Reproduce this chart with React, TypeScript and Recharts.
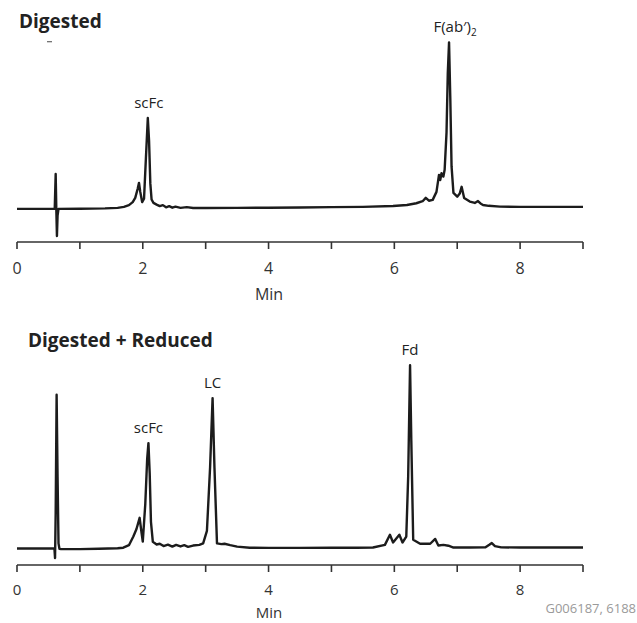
import React from 'react';
import { LineChart, Line, XAxis, YAxis, ReferenceDot } from 'recharts';

// ---------- data ----------
const timeTicks = [0, 1, 2, 3, 4, 5, 6, 7, 8, 9];

// Panel 1: Digested
const digestedTime = [
  0, 0.4, 0.6, 0.615, 0.625, 0.635, 0.645, 0.66, 1.0, 1.4, 1.6, 1.7, 1.78, 1.84, 1.88, 1.92,
  1.94, 1.96, 1.99, 2.02, 2.05, 2.08, 2.1, 2.12, 2.14, 2.17, 2.22, 2.27, 2.32, 2.37, 2.42, 2.47,
  2.52, 2.6, 2.7, 2.8, 3.0, 3.5, 4.0, 4.5, 5.0, 5.5, 5.98, 6.2, 6.35, 6.45, 6.5, 6.55, 6.61,
  6.67, 6.71, 6.73, 6.75, 6.78, 6.8, 6.83, 6.85, 6.87, 6.89, 6.91, 6.94, 7.0, 7.04, 7.07, 7.11,
  7.2, 7.28, 7.33, 7.37, 7.41, 7.5, 7.68, 8.0, 8.5, 9.0,
];
const digestedSignal = [
  0, 0, 0, 20.5, 0, -16, -4, 0, 0.1, 0.3, 0.6, 1.2, 2.2, 4, 6.5, 12,
  15.3, 10, 4, 6, 30, 53.5, 40, 15, 5.5, 3.5, 2.5, 1.6, 2.2, 0.9, 1.6, 0.7,
  1.3, 0.6, 1.0, 0.5, 0.5, 0.6, 0.7, 0.8, 1.0, 1.2, 1.7, 2.3, 3.3, 4.5, 6.5, 4.8, 5.3,
  10, 20, 17, 21, 19, 23, 45, 80, 98, 65, 25, 9.4, 7.2, 9, 13, 6.4,
  4.3, 3.5, 4.6, 3.2, 2.3, 1.8, 1.3, 1.2, 1.2, 1.2,
];
const digestedPeakNames = ['scFc', 'F(ab′)'];
const digestedPeakTimes = [2.08, 6.87];
const digestedPeakHeights = [53.5, 98];

// Panel 2: Digested + Reduced
const reducedTime = [
  0, 0.3, 0.58, 0.595, 0.605, 0.615, 0.63, 0.645, 0.66, 0.675, 0.7, 0.8, 1.0, 1.3, 1.6, 1.69,
  1.78, 1.85, 1.9, 1.95, 1.98, 2.0, 2.04, 2.07, 2.09, 2.11, 2.13, 2.16, 2.22, 2.27, 2.33, 2.4,
  2.47, 2.53, 2.6, 2.66, 2.72, 2.8, 2.9, 2.96, 3.02, 3.07, 3.11, 3.14, 3.18, 3.25, 3.3, 3.39,
  3.5, 3.7, 4.0, 4.5, 5.0, 5.4, 5.66, 5.85, 5.93, 5.98, 6.08, 6.13, 6.19, 6.22, 6.25, 6.27,
  6.3, 6.41, 6.57, 6.65, 6.7, 6.78, 6.86, 6.94, 7.2, 7.45, 7.51, 7.55, 7.6, 7.7, 8.0, 8.5, 9.0,
];
const reducedSignal = [
  0.2, 0.2, 0.2, 0.2, -5.2, 20, 85.6, 40, 3, 0, -0.2, -0.2, -0.2, 0, 0.3, 0.6,
  2, 6.8, 11, 17.2, 9, 4, 25, 50, 58.7, 42, 15, 3.9, 2.4, 2.8, 1.5, 2.3,
  1.2, 2.2, 1.3, 2.0, 1.1, 1.8, 2.2, 3.0, 10, 45, 83.7, 45, 3, 2.6, 2.8, 2,
  1.2, 0.6, 0.5, 0.5, 0.6, 0.6, 0.7, 2.2, 7.8, 3.5, 7.8, 3.5, 6.8, 40, 102, 60,
  5, 2.8, 2.8, 5.5, 1.8, 2.2, 1.7, 0.7, 0.7, 0.8, 2.2, 3.2, 1.5, 0.8, 0.7, 0.7, 0.7,
];
const reducedPeakNames = ['scFc', 'LC', 'Fd'];
const reducedPeakTimes = [2.09, 3.11, 6.25];
const reducedPeakHeights = [58.7, 83.7, 102];

// ---------- helpers ----------
const FONT = '"Open Sans", "Noto Sans", sans-serif';
const INK = '#1c1c1c';
const AXIS = '#333333';

const zip = (t: number[], s: number[]) => t.map((v, i) => ({ t: v, s: s[i] }));
const digestedData = zip(digestedTime, digestedSignal);
const reducedData = zip(reducedTime, reducedSignal);

const tickFmt = (v: number) => (v % 2 === 0 ? String(v) : '');

const makeLabel = (name: string, dx: number, sub?: string) => (p: any) => (
  <text
    x={p.cx + dx}
    y={p.cy - 10}
    textAnchor="middle"
    fontFamily={FONT}
    fontSize={15}
    fill="#222"
  >
    {name}
    {sub ? (
      <tspan fontSize={10} dy={4}>
        {sub}
      </tspan>
    ) : null}
  </text>
);

const axisProps = {
  type: 'number' as const,
  dataKey: 't',
  domain: [0, 9],
  ticks: timeTicks,
  tickFormatter: tickFmt,
  interval: 0 as const,
  allowDataOverflow: true,
  axisLine: { stroke: AXIS, strokeWidth: 1.6 },
  tickLine: { stroke: AXIS, strokeWidth: 1.6 },
  tickSize: 7,
  tickMargin: 14,
  tick: { fontSize: 16, fill: '#333', fontFamily: FONT },
  height: 60,
};

export default function App() {
  return (
    <div style={{ position: 'absolute', left: 0, top: 0, width: 637, height: 623, background: '#fff' }}>
      <div style={{ position: 'absolute', left: 0, top: 0 }}>
        <LineChart width={637} height={302} data={digestedData} margin={{ top: 22, right: 54, bottom: 0, left: 17 }}>
          <XAxis {...axisProps} />
          <YAxis hide type="number" domain={[-19.5, 110]} allowDataOverflow />
          <Line
            type="linear"
            dataKey="s"
            stroke={INK}
            strokeWidth={2.4}
            dot={false}
            isAnimationActive={false}
            strokeLinejoin="round"
          />
          {digestedPeakNames.map((n, i) => (
            <ReferenceDot
              key={n}
              x={digestedPeakTimes[i]}
              y={digestedPeakHeights[i]}
              r={0}
              shape={i === 1 ? makeLabel(n, 6, '2') : makeLabel(n, 1)}
            />
          ))}
        </LineChart>
      </div>
      <div style={{ position: 'absolute', left: 0, top: 320 }}>
        <LineChart width={637} height={303} data={reducedData} margin={{ top: 29, right: 54, bottom: 0, left: 17 }}>
          <XAxis
            {...axisProps}
            height={58}
            tickMargin={12}
            tick={{ fontSize: 15, fill: '#333', fontFamily: FONT }}
          />
          <YAxis hide type="number" domain={[-9, 111]} allowDataOverflow />
          <Line
            type="linear"
            dataKey="s"
            stroke={INK}
            strokeWidth={2.4}
            dot={false}
            isAnimationActive={false}
            strokeLinejoin="round"
          />
          {reducedPeakNames.map((n, i) => (
            <ReferenceDot
              key={n}
              x={reducedPeakTimes[i]}
              y={reducedPeakHeights[i]}
              r={0}
              shape={makeLabel(n, 0)}
            />
          ))}
        </LineChart>
      </div>
      <svg
        width={637}
        height={623}
        style={{ position: 'absolute', left: 0, top: 0, pointerEvents: 'none' }}
      >
        <text x={19} y={28.3} fontFamily={FONT} fontWeight={700} fontSize={19} fill="#222">
          Digested
        </text>
        <line x1={47} x2={52} y1={41.7} y2={41.7} stroke="#666" strokeWidth={1.2} />
        <text x={269} y={300} textAnchor="middle" fontFamily={FONT} fontSize={16} fill="#333">
          Min
        </text>
        <text x={28} y={347.3} fontFamily={FONT} fontWeight={700} fontSize={19} fill="#222">
          Digested + Reduced
        </text>
        <text x={269} y={618} textAnchor="middle" fontFamily={FONT} fontSize={15} fill="#333">
          Min
        </text>
        <text x={636} y={613} textAnchor="end" fontFamily={FONT} fontSize={13} fill="#9a9a9a">
          G006187, 6188
        </text>
      </svg>
    </div>
  );
}
